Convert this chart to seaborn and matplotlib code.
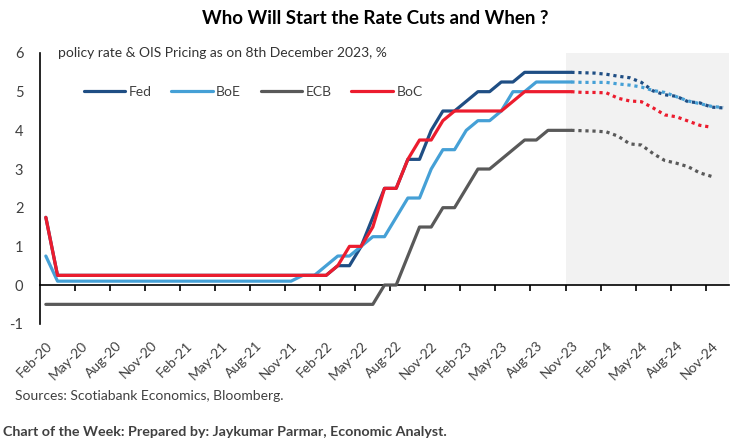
import pandas as pd
import matplotlib.pyplot as plt
import seaborn as sns

sns.set_theme(style="white")
plt.rcParams["font.family"] = ["Lato", "DejaVu Sans"]

# monthly policy rates, Feb-20 .. Nov-23
fed = [1.75] + [0.25] * 24 + [0.5, 0.5, 1.0, 1.75, 2.5, 2.5, 3.25, 3.25, 4.0, 4.5, 4.5,
                              4.75, 5.0, 5.0, 5.25, 5.25, 5.5, 5.5, 5.5, 5.5, 5.5]
boe = [0.75] + [0.1] * 21 + [0.25, 0.25, 0.5, 0.75, 0.75, 1.0, 1.25, 1.25, 1.75, 2.25, 2.25,
                             3.0, 3.5, 3.5, 4.0, 4.25, 4.25, 4.5, 5.0, 5.0, 5.25, 5.25, 5.25, 5.25]
ecb = [-0.5] * 29 + [0.0, 0.0, 0.75, 1.5, 1.5, 2.0, 2.0, 2.5, 3.0, 3.0, 3.25, 3.5, 3.75, 3.75,
                     4.0, 4.0, 4.0]
boc = [1.75] + [0.25] * 24 + [0.5, 1.0, 1.0, 1.5, 2.5, 2.5, 3.25, 3.75, 3.75, 4.25, 4.5, 4.5,
                              4.5, 4.5, 4.5, 4.75, 5.0, 5.0, 5.0, 5.0, 5.0]

# OIS pricing, Dec-23 onwards
fed_ois = [5.49, 5.48, 5.45, 5.40, 5.36, 5.24, 5.02, 4.92, 4.88, 4.74, 4.71, 4.60, 4.58]
boe_ois = [5.24, 5.24, 5.24, 5.20, 5.17, 5.12, 5.03, 4.98, 4.87, 4.76, 4.69, 4.62, 4.59]
ecb_ois = [3.99, 3.98, 3.96, 3.85, 3.65, 3.62, 3.40, 3.22, 3.15, 3.06, 2.90, 2.81]
boc_ois = [4.98, 4.98, 4.97, 4.83, 4.76, 4.74, 4.58, 4.40, 4.35, 4.24, 4.13, 4.08]

tick_labels = ["Feb-20", "May-20", "Aug-20", "Nov-20", "Feb-21", "May-21", "Aug-21", "Nov-21",
               "Feb-22", "May-22", "Aug-22", "Nov-22", "Feb-23", "May-23", "Aug-23", "Nov-23",
               "Feb-24", "May-24", "Aug-24", "Nov-24"]
n_months = 59  # Feb-20 .. Dec-24

colors = {"Fed": "#1f4e84", "BoE": "#45a0d6", "ECB": "#595959", "BoC": "#ec1c2e"}

hist = {"Fed": fed, "BoE": boe, "ECB": ecb, "BoC": boc}
ois = {"Fed": fed_ois, "BoE": boe_ois, "ECB": ecb_ois, "BoC": boc_ois}

rows = []
for bank, vals in hist.items():
    for i, v in enumerate(vals):
        rows.append({"month": i, "rate": v, "bank": bank})
df_hist = pd.DataFrame(rows)

rows = []
for bank, vals in ois.items():
    start = len(hist[bank]) - 1
    rows.append({"month": start, "rate": hist[bank][-1], "bank": bank})
    for i, v in enumerate(vals):
        rows.append({"month": start + 1 + i, "rate": v, "bank": bank})
df_ois = pd.DataFrame(rows)

fig = plt.figure(figsize=(7.5, 4.43), dpi=100)
ax = fig.add_axes([40 / 750, 1 - 323.7 / 443, 689 / 750, 270.7 / 443])

# shaded forecast window
fc_start = len(fed) - 1 - 0.5
ax.fill_between([fc_start, n_months - 0.5], 0, 6, color="#f2f2f2", lw=0, zorder=0)

sns.lineplot(data=df_hist, x="month", y="rate", hue="bank", palette=colors,
             hue_order=["Fed", "BoE", "ECB", "BoC"], linewidth=2.3, ax=ax, zorder=3)
for bank in ["Fed", "BoE", "ECB", "BoC"]:
    sub = df_ois[df_ois["bank"] == bank]
    sns.lineplot(data=sub, x="month", y="rate", color=colors[bank], linewidth=2.3,
                 linestyle=(0, (1, 1.2)), ax=ax, legend=False, zorder=3)

ax.set_xlim(-0.5, n_months - 0.5)
ax.set_ylim(-1, 6)
ax.set_xlabel("")
ax.set_ylabel("")

for s in ["top", "right"]:
    ax.spines[s].set_visible(False)
ax.spines["bottom"].set_position(("data", 0))
ax.spines["bottom"].set_color("black")
ax.spines["left"].set_color("black")
ax.spines["bottom"].set_linewidth(1.2)
ax.spines["left"].set_linewidth(1.2)

# ticks between categories, labels on the category
ax.set_xticks([b - 0.5 for b in range(3, n_months - 1, 3)])
ax.set_xticks(list(range(0, n_months, 3)), minor=True)
ax.set_xticklabels([])
ax.set_xticklabels(tick_labels, minor=True, rotation=45, ha="right",
                   rotation_mode="anchor", fontsize=10, color="#404040")
ax.tick_params(axis="x", which="major", direction="out", length=4, width=1.2,
               color="black", bottom=True)
ax.tick_params(axis="x", which="minor", length=0, pad=39)

ax.set_yticks(range(-1, 7))
ax.set_yticklabels([str(v) for v in range(-1, 7)], fontsize=10.5, color="#404040")
ax.tick_params(axis="y", length=0, pad=12)

ax.text(18 / 689, 1.0, "policy rate & OIS Pricing as on 8th December 2023, %",
        transform=ax.transAxes, fontsize=10, color="#333333", va="center", ha="left")

ax.legend(loc="center left", bbox_to_anchor=(0.045, 6 / 7), ncol=4, frameon=False,
          fontsize=10, handlelength=3.0, handletextpad=0.25, columnspacing=1.4,
          labelcolor="#404040")

fig.text(0.5, 1 - 18 / 443, "Who Will Start the Rate Cuts and When ?", ha="center",
         va="center", fontsize=13.5, fontweight="bold", color="black")
fig.text(15 / 750, 1 - 396 / 443, "Sources: Scotiabank Economics, Bloomberg.",
         fontsize=10, color="#404040", va="center")
fig.text(3 / 750, 1 - 432 / 443, "Chart of the Week: Prepared by: Jaykumar Parmar, Economic Analyst.",
         fontsize=10.3, fontweight="bold", color="#404040", va="center")

fig.savefig("out.png", dpi=100)
